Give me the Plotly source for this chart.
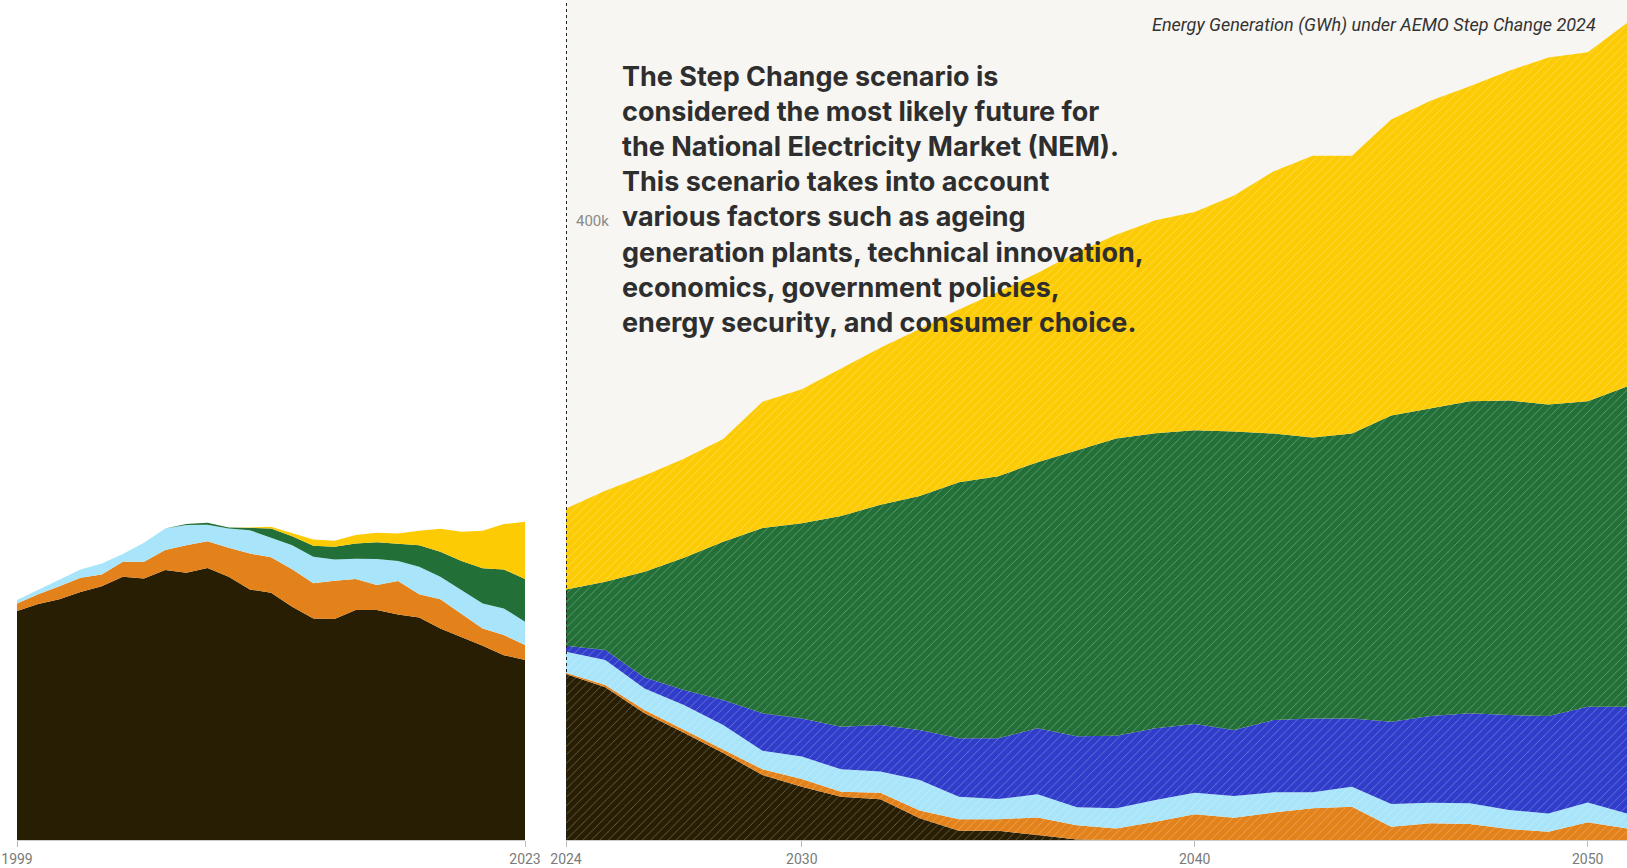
import plotly.graph_objects as go

# historical NEM generation, GWh
hist_years = list(range(1999, 2024))
hist_coal = [148000, 152500, 155700, 160300, 164100, 170200, 169100, 174500, 172800, 175800, 170200, 162000, 159800,
             150800, 143200, 142800, 148600, 148600, 145800, 143900, 136800, 131400, 125600, 119500, 116300]
hist_gas = [4900, 6300, 8400, 9200, 7600, 9700, 10800, 12900, 17800, 17400, 18700, 23200, 22900,
            24300, 22700, 24800, 20100, 16200, 21600, 14900, 18900, 15100, 11200, 13000, 9700]
hist_hydro = [2200, 2800, 4300, 5400, 7100, 4900, 12200, 14000, 13000, 10600, 12500, 15100, 12700,
              15500, 17200, 13800, 13100, 16800, 12900, 17800, 14500, 15100, 16100, 17200, 15100]
hist_wind = [0, 0, 0, 0, 0, 0, 0, 0, 600, 1300, 600, 1500, 6000,
             5800, 7100, 8200, 9900, 10800, 11400, 14000, 16100, 18700, 22700, 25200, 27600]
hist_solar = [0, 0, 0, 0, 0, 0, 0, 0, 0, 0, 0, 200, 1100,
              1800, 4100, 3800, 5400, 6200, 6500, 9300, 14900, 18900, 24300, 29300, 37000]

# AEMO Step Change projection, GWh
proj_years = list(range(2024, 2052))
proj_coal = [107300, 98700, 81900, 69400, 56200, 42000, 34500, 28000, 26300, 14000, 6000, 6000, 3200, 400,
             0, 0, 0, 0, 0, 0, 0, 0, 0, 0, 0, 0, 0, 0]
proj_gas = [800, 1500, 2100, 1700, 2400, 3700, 4900, 3200, 4300, 5000, 7400, 7400, 11400, 9100,
            7500, 11800, 16600, 14400, 17700, 20500, 21500, 8600, 10800, 10300, 7100, 5400, 11400, 7500]
proj_hydro = [13600, 16100, 14000, 16100, 15700, 12000, 14500, 14500, 13600, 19800, 14600, 13100, 14900, 11600,
              13000, 14000, 14000, 14000, 13100, 10300, 13000, 14700, 13300, 13400, 12300, 11800, 12900, 9700]
proj_storage = [3900, 6500, 7100, 9700, 16200, 24200, 24700, 27500, 30100, 32300, 37700, 39200, 42700, 45900,
                46900, 46400, 44400, 42700, 46700, 47800, 44100, 53200, 56000, 58200, 61400, 62900, 61900, 69000]
proj_wind = [36300, 44200, 68300, 85500, 102300, 119800, 126200, 136300, 142400, 151300, 165600, 169500, 172000, 185000,
             192200, 190800, 189800, 192900, 185200, 181600, 184100, 197900, 198900, 201700, 203300, 201500, 197400, 206900]
proj_solar = [52400, 58700, 62300, 64100, 66400, 81600, 86600, 95300, 101500, 107900, 111700, 119200, 122300, 127900,
              131700, 137700, 141200, 152700, 169500, 182100, 179600, 191300, 198800, 203600, 213100, 224300, 225700, 235000]

colors = {'Coal': '#281e03', 'Gas': '#e3821a', 'Hydro': '#a9e5fa', 'Storage': '#2f3dca',
          'Wind': '#236f38', 'Solar': '#fdcb04'}

fig = go.Figure()

hist = [('Coal', hist_coal), ('Gas', hist_gas), ('Hydro', hist_hydro), ('Wind', hist_wind), ('Solar', hist_solar)]
for name, vals in hist:
    fig.add_trace(go.Scatter(x=hist_years, y=vals, name=name, stackgroup='hist', mode='lines',
                             line=dict(width=0), fillcolor=colors[name], xaxis='x', yaxis='y'))

proj = [('Coal', proj_coal), ('Gas', proj_gas), ('Hydro', proj_hydro), ('Storage', proj_storage),
        ('Wind', proj_wind), ('Solar', proj_solar)]
for name, vals in proj:
    fig.add_trace(go.Scatter(x=proj_years, y=vals, name=name, stackgroup='proj', mode='lines',
                             line=dict(width=0), fillcolor=colors[name], xaxis='x2', yaxis='y2',
                             fillpattern=dict(shape='/', bgcolor=colors[name], fgcolor='white',
                                              fgopacity=0.3, size=6, solidity=0.15)))

tickfont = dict(family='Roboto', size=14, color='#7a7a7a')
ydom = [28 / 868, 1]
yrange = [0, 543000]

fig.update_layout(
    width=1627, height=868,
    margin=dict(l=0, r=0, t=0, b=0, autoexpand=False),
    paper_bgcolor='white', plot_bgcolor='white',
    showlegend=False,
    xaxis=dict(domain=[17 / 1627, 525 / 1627], range=[1999, 2023], tickvals=[1999, 2023],
               showgrid=False, zeroline=False, showline=True, linecolor='#cccccc', automargin=False,
               ticks='outside', ticklen=6, tickcolor='#bbbbbb', tickfont=tickfont),
    yaxis=dict(domain=ydom, range=yrange, visible=False, automargin=False),
    xaxis2=dict(domain=[566 / 1627, 1], range=[2024, 2051], tickvals=[2024, 2030, 2040, 2050],
                showgrid=False, zeroline=False, showline=True, linecolor='#cccccc', automargin=False,
                ticks='outside', ticklen=6, tickcolor='#bbbbbb', tickfont=tickfont, anchor='y2'),
    yaxis2=dict(domain=ydom, range=yrange, anchor='x2', visible=False, automargin=False),
)

# off-white background of the projection panel
fig.add_shape(type='rect', xref='x2 domain', yref='y2 domain', x0=0, x1=1, y0=0, y1=1,
              fillcolor='#f7f6f2', line=dict(width=0), layer='below')
# dotted divider at the start of the projection
fig.add_shape(type='line', xref='x2', yref='y2 domain', x0=2024, x1=2024, y0=0, y1=1,
              line=dict(color='#222222', width=2, dash='dot'))

# single y reference label
fig.add_annotation(xref='x2 domain', yref='y2', x=0, y=400000, xshift=8, xanchor='left', yanchor='middle',
                   text='400k', showarrow=False, font=dict(family='Roboto', size=15, color='#8a8a8a'))

fig.add_annotation(xref='paper', yref='paper', x=1598 / 1627, y=1 - 25 / 868, xanchor='right', yanchor='middle',
                   text='<i>Energy Generation (GWh) under AEMO Step Change 2024</i>', showarrow=False,
                   font=dict(family='Roboto', size=18, color='#333333'))

blurb = ('The Step Change scenario is<br>considered the most likely future for<br>'
         'the National Electricity Market (NEM).<br>This scenario takes into account<br>'
         'various factors such as ageing<br>generation plants, technical innovation,<br>'
         'economics, government policies,<br>energy security, and consumer choice.')
fig.add_annotation(xref='paper', yref='paper', x=620 / 1627, y=1 - 58 / 868, xanchor='left', yanchor='top',
                   text='<b>' + blurb + '</b>', showarrow=False, align='left',
                   font=dict(family='Inter', size=27, color='#2e2e2e'))

fig.write_html('out.html', config={'displayModeBar': False},
               post_script="document.body.style.margin='0';")
